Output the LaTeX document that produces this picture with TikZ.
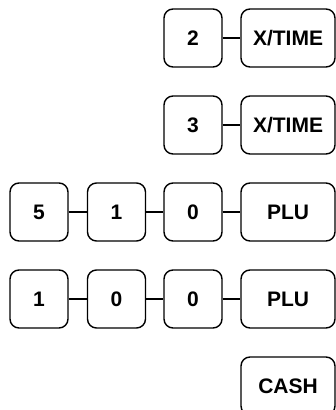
\documentclass[tikz,border=0pt]{standalone}
\usepackage{fontspec}
\setmainfont{Liberation Sans}
\begin{document}
\begin{tikzpicture}[x=1pt,y=-1pt,
  key/.style={draw=black, line width=1.4pt, rounded corners=9pt, minimum height=58pt, inner sep=0pt, font=\fontsize{21}{22}\selectfont\bfseries},
  smallkey/.style={key, minimum width=58pt},
  bigkey/.style={key, minimum width=94pt},
  link/.style={line width=1.4pt}]
\clip (0,0) rectangle (336,410);
\fill[white] (0,0) rectangle (336,410);
% row 1
\node[smallkey] (r1a) at (193,38) {2};
\node[bigkey] (r1b) at (288,38) {X/TIME};
\draw[link] (r1a) -- (r1b);
% row 2
\node[smallkey] (r2a) at (193,125) {3};
\node[bigkey] (r2b) at (288,125) {X/TIME};
\draw[link] (r2a) -- (r2b);
% row 3
\node[smallkey] (r3a) at (39,212) {5};
\node[smallkey] (r3b) at (116.5,212) {1};
\node[smallkey] (r3c) at (193,212) {0};
\node[bigkey] (r3d) at (288,212) {PLU};
\draw[link] (r3a) -- (r3b);
\draw[link] (r3b) -- (r3c);
\draw[link] (r3c) -- (r3d);
% row 4
\node[smallkey] (r4a) at (39,299) {1};
\node[smallkey] (r4b) at (116.5,299) {0};
\node[smallkey] (r4c) at (193,299) {0};
\node[bigkey] (r4d) at (288,299) {PLU};
\draw[link] (r4a) -- (r4b);
\draw[link] (r4b) -- (r4c);
\draw[link] (r4c) -- (r4d);
% row 5
\node[bigkey] (r5) at (288,386) {CASH};
\end{tikzpicture}
\end{document}
